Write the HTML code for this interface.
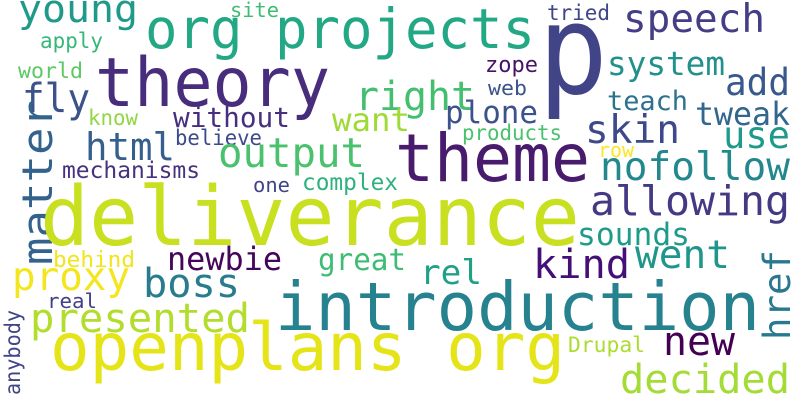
<!DOCTYPE html>
<html><head><meta charset="utf-8"><style>
html,body{margin:0;padding:0;background:#fff;}
svg{display:block;}
text{font-family:"DejaVu Sans Mono","Liberation Mono",monospace;}
</style></head><body>
<svg width="800" height="400" viewBox="0 0 800 400">
<rect width="800" height="400" fill="#fff"/>
<text x="95" y="106" font-size="68" textLength="235" lengthAdjust="spacingAndGlyphs" fill="#472d7b">theory</text>
<text x="538" y="93" font-size="124" textLength="70" lengthAdjust="spacingAndGlyphs" fill="#414487">p</text>
<text x="145" y="48" font-size="55" textLength="390" lengthAdjust="spacingAndGlyphs" fill="#22a884">org projects</text>
<text x="18" y="22" font-size="38" textLength="120" lengthAdjust="spacingAndGlyphs" fill="#1f9a8a">young</text>
<text x="230" y="17" font-size="20" textLength="49" lengthAdjust="spacingAndGlyphs" fill="#3fbc73">site</text>
<text x="40" y="48" font-size="21" textLength="63" lengthAdjust="spacingAndGlyphs" fill="#35b779">apply</text>
<text x="18" y="78" font-size="21" textLength="65" lengthAdjust="spacingAndGlyphs" fill="#5ec962">world</text>
<text x="22" y="112" font-size="40" textLength="68" lengthAdjust="spacingAndGlyphs" fill="#3b528b">fly</text>
<text x="355" y="110" font-size="40" textLength="120" lengthAdjust="spacingAndGlyphs" fill="#44bf70">right</text>
<text x="88" y="125" font-size="21" textLength="50" lengthAdjust="spacingAndGlyphs" fill="#90d743">know</text>
<text x="173" y="127" font-size="28" textLength="117" lengthAdjust="spacingAndGlyphs" fill="#472f7d">without</text>
<text x="332" y="131" font-size="32" textLength="78" lengthAdjust="spacingAndGlyphs" fill="#a0da39">want</text>
<text x="85" y="160" font-size="38" textLength="90" lengthAdjust="spacingAndGlyphs" fill="#355f8d">html</text>
<text x="175" y="145" font-size="21" textLength="87" lengthAdjust="spacingAndGlyphs" fill="#3e4989">believe</text>
<text x="218" y="167" font-size="41" textLength="147" lengthAdjust="spacingAndGlyphs" fill="#4ac16d">output</text>
<text x="62" y="178" font-size="23" textLength="138" lengthAdjust="spacingAndGlyphs" fill="#46327e">mechanisms</text>
<text x="253" y="192" font-size="20" textLength="37" lengthAdjust="spacingAndGlyphs" fill="#414487">one</text>
<text x="302" y="190" font-size="23" textLength="96" lengthAdjust="spacingAndGlyphs" fill="#2db27d">complex</text>
<text transform="translate(52,265) rotate(-90)" x="0" y="0" font-size="42" textLength="165" lengthAdjust="spacingAndGlyphs" fill="#33638d">matter</text>
<text x="40" y="245" font-size="82" textLength="540" lengthAdjust="spacingAndGlyphs" fill="#c8e020">deliverance</text>
<text x="395" y="181" font-size="66" textLength="195" lengthAdjust="spacingAndGlyphs" fill="#481b6d">theme</text>
<text x="623" y="32" font-size="39" textLength="142" lengthAdjust="spacingAndGlyphs" fill="#433e85">speech</text>
<text x="547" y="20" font-size="21" textLength="63" lengthAdjust="spacingAndGlyphs" fill="#404688">tried</text>
<text x="485" y="72" font-size="22" textLength="53" lengthAdjust="spacingAndGlyphs" fill="#471365">zope</text>
<text x="488" y="95" font-size="20" textLength="39" lengthAdjust="spacingAndGlyphs" fill="#3b528b">web</text>
<text x="607" y="75" font-size="33" textLength="118" lengthAdjust="spacingAndGlyphs" fill="#21918c">system</text>
<text x="725" y="95" font-size="37" textLength="65" lengthAdjust="spacingAndGlyphs" fill="#38598c">add</text>
<text x="445" y="123" font-size="31" textLength="93" lengthAdjust="spacingAndGlyphs" fill="#3b528b">plone</text>
<text x="607" y="110" font-size="27" textLength="81" lengthAdjust="spacingAndGlyphs" fill="#2c728e">teach</text>
<text x="695" y="125" font-size="32" textLength="95" lengthAdjust="spacingAndGlyphs" fill="#31668e">tweak</text>
<text x="585" y="143" font-size="39" textLength="95" lengthAdjust="spacingAndGlyphs" fill="#3e4989">skin</text>
<text x="723" y="148" font-size="37" textLength="67" lengthAdjust="spacingAndGlyphs" fill="#1f9a8a">use</text>
<text x="462" y="140" font-size="21" textLength="100" lengthAdjust="spacingAndGlyphs" fill="#4ac16d">products</text>
<text x="598" y="157" font-size="20" textLength="36" lengthAdjust="spacingAndGlyphs" fill="#fde725">row</text>
<text x="600" y="180" font-size="39" textLength="190" lengthAdjust="spacingAndGlyphs" fill="#23888e">nofollow</text>
<text x="590" y="215" font-size="41" textLength="200" lengthAdjust="spacingAndGlyphs" fill="#443a83">allowing</text>
<text x="577" y="245" font-size="31" textLength="113" lengthAdjust="spacingAndGlyphs" fill="#1e9b8a">sounds</text>
<text x="635" y="268" font-size="39" textLength="95" lengthAdjust="spacingAndGlyphs" fill="#1f968b">went</text>
<text x="533" y="278" font-size="40" textLength="97" lengthAdjust="spacingAndGlyphs" fill="#440f76">kind</text>
<text transform="translate(790,340) rotate(-90)" x="0" y="0" font-size="37" textLength="90" lengthAdjust="spacingAndGlyphs" fill="#2a788e">href</text>
<text x="318" y="270" font-size="30" textLength="88" lengthAdjust="spacingAndGlyphs" fill="#3dbc74">great</text>
<text x="420" y="284" font-size="34" textLength="62" lengthAdjust="spacingAndGlyphs" fill="#1fa187">rel</text>
<text x="167" y="270" font-size="32" textLength="115" lengthAdjust="spacingAndGlyphs" fill="#450559">newbie</text>
<text x="53" y="267" font-size="22" textLength="82" lengthAdjust="spacingAndGlyphs" fill="#f1e51d">behind</text>
<text x="12" y="290" font-size="39" textLength="118" lengthAdjust="spacingAndGlyphs" fill="#f4e61e">proxy</text>
<text x="143" y="297" font-size="40" textLength="97" lengthAdjust="spacingAndGlyphs" fill="#287c8e">boss</text>
<text x="47" y="308" font-size="20" textLength="50" lengthAdjust="spacingAndGlyphs" fill="#424086">real</text>
<text x="275" y="330" font-size="67" textLength="485" lengthAdjust="spacingAndGlyphs" fill="#26828e">introduction</text>
<text x="30" y="332" font-size="40" textLength="220" lengthAdjust="spacingAndGlyphs" fill="#b2dd2d">presented</text>
<text transform="translate(20,395) rotate(-90)" x="0" y="0" font-size="21" textLength="85" lengthAdjust="spacingAndGlyphs" fill="#414487">anybody</text>
<text x="50" y="370" font-size="66" textLength="515" lengthAdjust="spacingAndGlyphs" fill="#e5e419">openplans org</text>
<text x="568" y="352" font-size="21" textLength="77" lengthAdjust="spacingAndGlyphs" fill="#addc30">Drupal</text>
<text x="663" y="355" font-size="40" textLength="72" lengthAdjust="spacingAndGlyphs" fill="#440154">new</text>
<text x="620" y="393" font-size="40" textLength="170" lengthAdjust="spacingAndGlyphs" fill="#a5db36">decided</text>
</svg>
</body></html>
